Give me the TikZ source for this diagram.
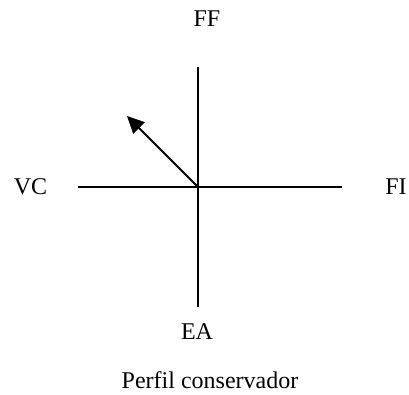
\documentclass[tikz,border=0pt]{standalone}
\usepackage{fontspec}
\setmainfont{Liberation Serif}
\usetikzlibrary{arrows.meta}

\begin{document}
\begin{tikzpicture}[x=1pt, y=-1pt,
  axis/.style={line width=2pt, black},
  lbl/.style={font=\fontsize{24}{28}\selectfont, inner sep=0pt}]
  \useasboundingbox (0,0) rectangle (409,395);
  \coordinate (o) at (198,187);
  \coordinate (top) at (198,67);
  \coordinate (bot) at (198,307);
  \coordinate (lft) at (78,187);
  \coordinate (rgt) at (342,187);
  \coordinate (tip) at (127,116);
  \draw[axis] (top) -- (bot);
  \draw[axis] (lft) -- (rgt);
  \draw[axis, -{Triangle[length=17pt, width=16pt]}] (o) -- (tip);
  \node[lbl] (ff) at (207,19) {FF};
  \node[lbl] (vc) at (30.5,187) {VC};
  \node[lbl] (fi) at (396,187) {FI};
  \node[lbl] (ea) at (197,332) {EA};
  \node[lbl] (perfil) at (210,380) {Perfil conservador};
\end{tikzpicture}
\end{document}
